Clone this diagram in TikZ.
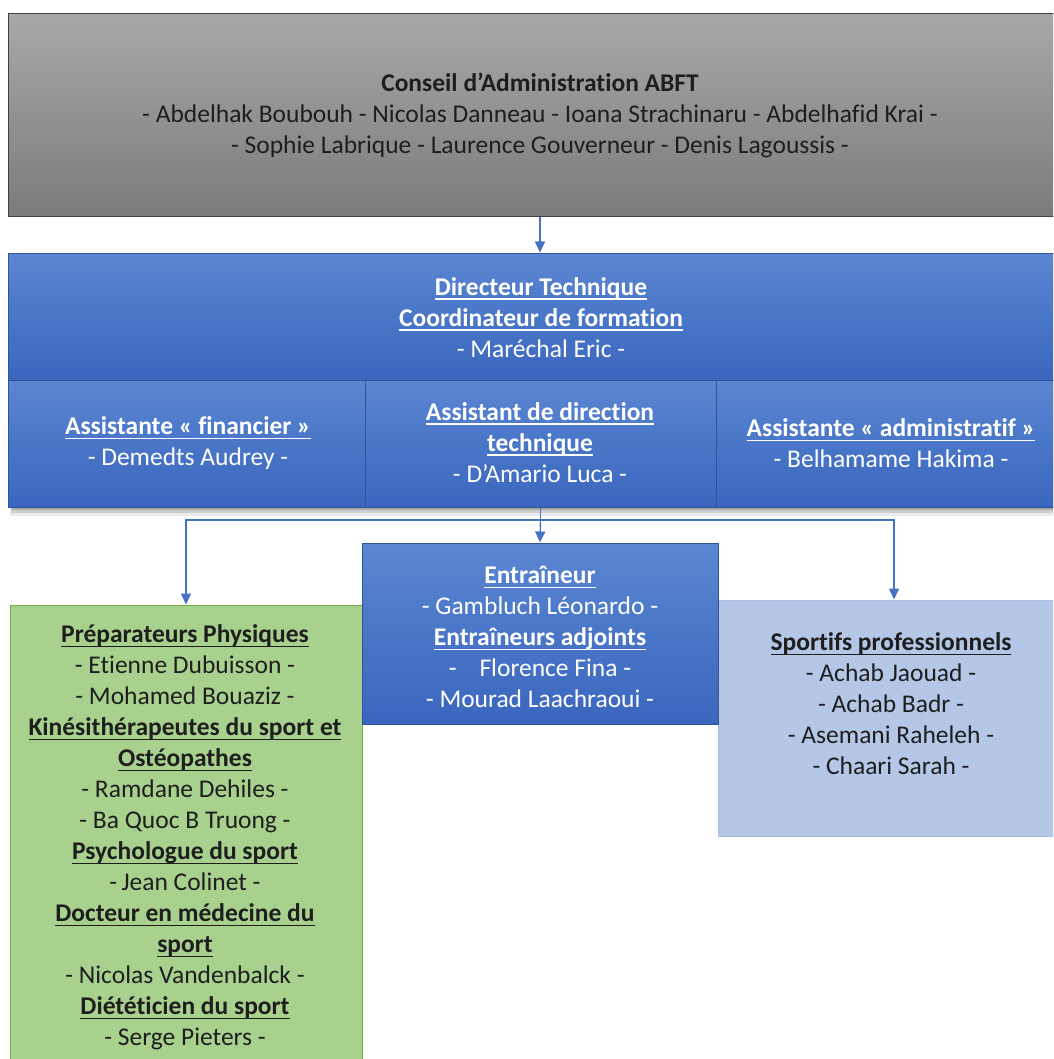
\documentclass[tikz,border=0pt]{standalone}
\usepackage{fontspec}
\setmainfont[RawFeature={-liga;-clig;-dlig;-calt}]{Carlito}
\usetikzlibrary{arrows.meta,shadows}
\definecolor{grayTop}{HTML}{A8A8A8}
\definecolor{grayBot}{HTML}{7B7B7B}
\definecolor{blueTop}{HTML}{5A86D2}
\definecolor{blueBot}{HTML}{3A66BE}
\definecolor{blueLine}{HTML}{2F5597}
\definecolor{conn}{HTML}{4472C4}
\definecolor{greenFill}{HTML}{A9D18E}
\definecolor{greenLine}{HTML}{70AD47}
\definecolor{lblueFill}{HTML}{B4C7E7}
\definecolor{lblueLine}{HTML}{A9BEE2}
\definecolor{darktext}{HTML}{1E1E1E}
\newcommand\ulx[1]{\setbox0\hbox{#1}\rlap{\rule[-4.5pt]{\wd0}{1.5pt}}\box0}
\begin{document}
\begin{tikzpicture}[x=1pt,y=-1pt,
  box/.style={rectangle,inner sep=0pt,anchor=center},
  graybox/.style={box,draw=black!75,line width=1pt,top color=grayTop,bottom color=grayBot},
  bluebox/.style={box,draw=blueLine,line width=1pt,top color=blueTop,bottom color=blueBot},
  greenbox/.style={box,draw=greenLine,line width=1pt,fill=greenFill},
  lbluebox/.style={box,draw=lblueLine,line width=1pt,fill=lblueFill},
  txt/.style={align=center,font=\fontsize{25.5}{31}\selectfont,inner sep=0pt},
  wtxt/.style={txt,text=white},
  dtxt/.style={txt,text=darktext},
  conline/.style={draw=conn,line width=1.4pt},
  arr/.style={conline,-{Triangle[width=10pt,length=11pt]}}
]
\useasboundingbox (0,0) rectangle (1053,1059);
\begin{scope}
\clip (0,0) rectangle (1053,1059);
\fill[white] (0,0) rectangle (1053,1059);

% boxes
\node[graybox,minimum width=1064pt,minimum height=203pt] (ca) at (540,115.5) {};
\fill[black,opacity=0.08] (10,380) rectangle (1076,516);
\fill[black,opacity=0.12] (11,380) rectangle (1076,513);
\fill[black,opacity=0.18] (12,380) rectangle (1076,510);
\node[bluebox,minimum width=1064pt,minimum height=127pt] (dt) at (540,316.5) {};
\node[bluebox,minimum width=357pt,minimum height=127pt] (af) at (186.5,443.5) {};
\node[bluebox,minimum width=351pt,minimum height=127pt] (adt) at (540.5,443.5) {};
\node[bluebox,minimum width=356pt,minimum height=127pt] (aa) at (894,443.5) {};
\node[greenbox,minimum width=352pt,minimum height=470pt] (pp) at (186,840) {};
\node[lbluebox,minimum width=352pt,minimum height=236pt] (sp) at (894,718) {};
\node[bluebox,minimum width=356pt,minimum height=181pt] (en) at (540,633.5) {};

% texts
\node[dtxt] (caT) at (540,115) {\textbf{Conseil d’Administration ABFT}\\
- Abdelhak Boubouh - Nicolas Danneau - Ioana Strachinaru - Abdelhafid Krai -\\
- Sophie Labrique - Laurence Gouverneur - Denis Lagoussis -};
\node[wtxt] (dtT) at (541,317.5) {\textbf{\ulx{Directeur Technique}}\\
\textbf{\ulx{Coordinateur de formation}}\\
- Maréchal Eric -};
\node[wtxt] (afT) at (188,443.5) {\textbf{\ulx{Assistante « financier »}}\\
- Demedts Audrey -};
\node[wtxt] (adtT) at (540,442.5) {\textbf{\ulx{Assistant de direction}}\\
\textbf{\ulx{technique}}\\
- D’Amario Luca -};
\node[wtxt] (aaT) at (891,443.5) {\textbf{\ulx{Assistante « administratif »}}\\
- Belhamame Hakima -};
\node[wtxt] (enT) at (540,637) {\textbf{\ulx{Entraîneur}}\\
- Gambluch Léonardo -\\
\textbf{\ulx{Entraîneurs adjoints}}\\
-\hspace{0.9em}Florence Fina -\\
- Mourad Laachraoui -};
\node[dtxt] (ppT) at (185,837.5) {\textbf{\ulx{Préparateurs Physiques}}\\
- Etienne Dubuisson -\\
- Mohamed Bouaziz -\\
\textbf{\ulx{Kinésithérapeutes du sport et}}\\
\textbf{\ulx{Ostéopathes}}\\
- Ramdane Dehiles -\\
- Ba Quoc B Truong -\\
\textbf{\ulx{Psychologue du sport}}\\
-\,Jean Colinet -\\
\textbf{\ulx{Docteur en médecine du}}\\
\textbf{\ulx{sport}}\\
- Nicolas Vandenbalck -\\
\textbf{\ulx{Diététicien du sport}}\\
- Serge Pieters -};
\node[dtxt] (spT) at (891,704) {\textbf{\ulx{Sportifs professionnels}}\\
- Achab Jaouad -\\
- Achab Badr -\\
- Asemani Raheleh -\\
- Chaari Sarah -};

% connectors
\draw[arr] (ca.south) -- (dt.north);
\coordinate (j) at (540.5,520);
\draw[conline] (adt.south) -- (j);
\draw[arr] (j) -- (en.north);
\draw[arr] (j) -| (pp.north);
\draw[arr] (j) -| (sp.north);
\end{scope}
\end{tikzpicture}
\end{document}
